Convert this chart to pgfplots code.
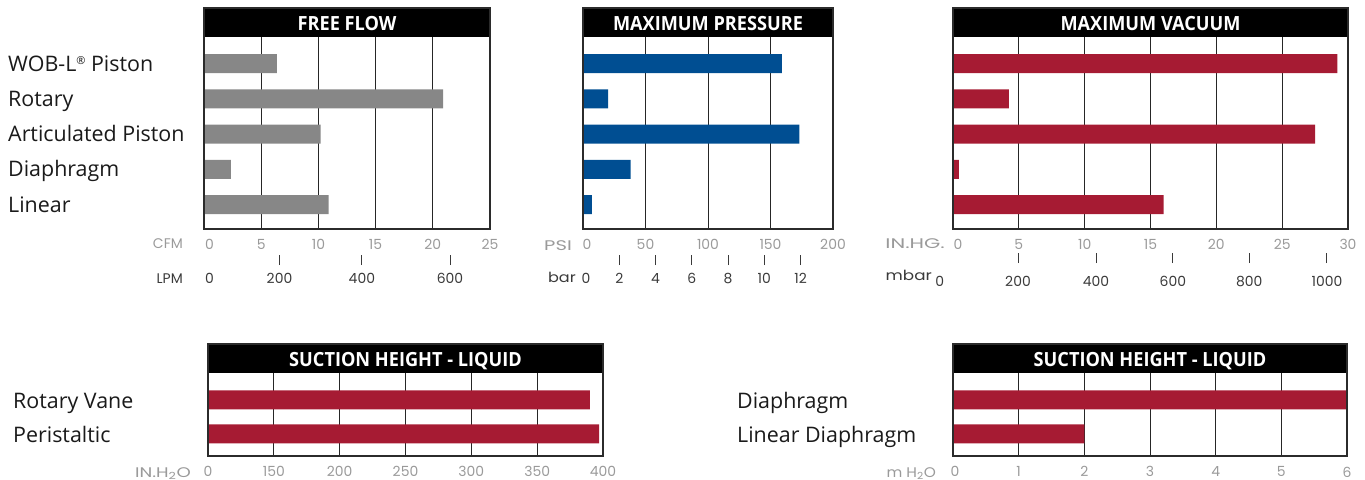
\documentclass[border=0pt]{standalone}
\usepackage{pgfplots}
\pgfplotsset{compat=1.18}
\usepackage{fontspec}
\setmainfont{Open Sans}
\newfontfamily\tickfont{Poppins}
\newfontfamily\titlefont{Open Sans}[FakeStretch=0.93]
\definecolor{bargray}{HTML}{878787}
\definecolor{barblue}{HTML}{004E92}
\definecolor{barred}{HTML}{A61B33}
\definecolor{ticklight}{HTML}{9A9A9A}
\definecolor{tickdark}{HTML}{3A3A3A}
\definecolor{framecol}{HTML}{2B2B2B}
\definecolor{labcol}{HTML}{1A1A1A}

\newcommand\tfont{\tickfont\fontsize{14}{14}\selectfont}
\newcommand\sh[2]{\hspace*{#1}#2}

\pgfplotsset{
 panel/.style={xbar, scale only axis, clip=false, anchor=south west,
   /pgf/number format/assume math mode=true,
   axis line style={draw=none}, xmajorgrids, grid style={black!85, line width=0.8bp},
   major tick length=0pt, bar width=19bp,
   xticklabel style={font=\tfont, text=ticklight, anchor=north, inner sep=0pt, yshift=-10bp},
   yticklabel style={font=\fontsize{21.5}{21.5}\selectfont, text=labcol, anchor=base west, inner sep=0pt, yshift=-7.5bp},
 },
 sub/.style={scale only axis, anchor=south west, height=1bp, ymin=0, ymax=1, hide y axis,
   /pgf/number format/assume math mode=true,
   axis line style={draw=none}, xtick pos=bottom, xtick align=inside, major tick length=10bp,
   tick style={draw=tickdark, line width=0.9bp},
   xticklabel style={font=\tfont, text=tickdark, anchor=north, inner sep=0pt, yshift=-8bp},
   extra x tick style={major tick length=0pt},
 },
}

\newcommand\paneltitle[1]{%
  \fill[black] (rel axis cs:0,1) rectangle ([yshift=29bp]rel axis cs:1,1);
  \node[anchor=base, inner sep=0pt, text=white, font=\titlefont\bfseries\fontsize{19.6}{20}\selectfont] at ([yshift=6.3bp]rel axis cs:0.5,1) {#1};
  \draw[line width=1.6bp, framecol] (rel axis cs:0,0) rectangle ([yshift=29bp]rel axis cs:1,1);
}

\begin{document}
\begin{tikzpicture}
\useasboundingbox (0,0) rectangle (1365bp,-480bp);

% ---------- FREE FLOW ----------
\begin{axis}[panel, at={(204bp,-229bp)}, width=286bp, height=192bp,
  xmin=0, xmax=25, ymin=0.305, ymax=5.752,
  xtick={0,5,10,15,20,25},
  xticklabels={\sh{11bp}{0},5,10,15,20,25},
  ytick={1,2,3,4,5},
  yticklabels={Linear, Diaphragm, Articulated Piston, Rotary, {WOB-L\raisebox{6.5bp}{\fontsize{11}{11}\selectfont ®} Piston}},
  yticklabel style={xshift=-196bp}]
\addplot[fill=bargray, draw=none] coordinates {(6.38,5) (20.9,4) (10.2,3) (2.36,2) (10.9,1)};
\paneltitle{FREE FLOW}
\end{axis}
\begin{axis}[sub, at={(204bp,-265bp)}, width=286bp, xmin=0, xmax=25,
  xtick={6.6,13.8,21.5}, xticklabels={200,400,600},
  extra x ticks={0}, extra x tick labels={\sh{11bp}{0}}]
\end{axis}

% ---------- MAXIMUM PRESSURE ----------
\begin{axis}[panel, at={(583bp,-229bp)}, width=250bp, height=192bp,
  xmin=0, xmax=200, ymin=0.305, ymax=5.752,
  xtick={0,50,100,150,200}, xticklabels={\sh{8bp}{0},50,100,150,200}, ytick=\empty]
\addplot[fill=barblue, draw=none] coordinates {(159,5) (20,4) (173,3) (38,2) (7,1)};
\paneltitle{MAXIMUM PRESSURE}
\end{axis}
\begin{axis}[sub, at={(583bp,-265bp)}, width=250bp, xmin=0, xmax=200,
  xtick={29.01,58.02,87.02,116.03,145.04,174.05}, xticklabels={2,4,6,8,10,12},
  extra x ticks={0}, extra x tick labels={\sh{6bp}{0}}]
\end{axis}

% ---------- MAXIMUM VACUUM ----------
\begin{axis}[panel, at={(953bp,-229bp)}, width=395bp, height=192bp,
  xmin=0, xmax=30, ymin=0.305, ymax=5.752,
  xtick={0,5,10,15,20,25,30}, xticklabels={\sh{10bp}{0},5,10,15,20,25,30}, ytick=\empty]
\addplot[fill=barred, draw=none] coordinates {(29.2,5) (4.25,4) (27.5,3) (0.45,2) (16.0,1)};
\paneltitle{MAXIMUM VACUUM}
\end{axis}
\begin{axis}[sub, at={(933.2bp,-263bp)}, width=414.8bp, xmin=-1.5, xmax=30,
  xtick={4.94,10.86,16.7,22.5,28.4}, xticklabels={200,400,600,800,1000},
  extra x ticks={-1.0}, extra x tick labels={0},
  xticklabel style={yshift=-5bp}]
\end{axis}

% ---------- SUCTION HEIGHT (IN.H2O) ----------
\begin{axis}[panel, at={(208bp,-456bp)}, width=395bp, height=83bp,
  xmin=0, xmax=6, ymin=0.353, ymax=2.79,
  x filter/.expression={x<150 ? x/150 : (x-100)/50},
  xtick={0,1,2,3,4,5,6}, xticklabels={0,150,200,250,300,350,400},
  xticklabel style={yshift=-0.5bp},
  ytick={1,2}, yticklabels={Peristaltic, Rotary Vane},
  yticklabel style={xshift=-195bp, yshift=-1bp}]
\addplot[fill=barred, draw=none] coordinates {(390,2) (397,1)};
\paneltitle{SUCTION HEIGHT - LIQUID}
\end{axis}

% ---------- SUCTION HEIGHT (m H2O) ----------
\begin{axis}[panel, at={(953bp,-456bp)}, width=394bp, height=83bp,
  xmin=0, xmax=6, ymin=0.353, ymax=2.79,
  xtick={0,1,2,3,4,5,6}, xticklabels={\sh{4bp}{0},1,2,3,4,5,6},
  xticklabel style={yshift=-0.5bp},
  ytick={1,2}, yticklabels={Linear Diaphragm, Diaphragm},
  yticklabel style={xshift=-216bp, yshift=-1bp}]
\addplot[fill=barred, draw=none] coordinates {(6,2) (2,1)};
\paneltitle{SUCTION HEIGHT - LIQUID}
\end{axis}

% ---------- unit labels ----------
\begin{scope}[every node/.style={inner sep=0pt, font=\tfont}]
\node[anchor=base east, text=ticklight] at (183bp,-248bp) {CFM};
\node[anchor=base east, text=tickdark] at (183bp,-283bp) {LPM};
\node[anchor=base east, text=ticklight] at (572bp,-250bp) {\scalebox{1.4}[1]{PSI}};
\node[anchor=base east, text=tickdark] at (576bp,-282bp) {\scalebox{1.15}[1]{bar}};
\node[anchor=base east, text=ticklight] at (945bp,-248bp) {\scalebox{1.5}[1]{IN.HG.}};
\node[anchor=base east, text=tickdark] at (932bp,-280bp) {\scalebox{1.2}[1]{mbar}};
\node[anchor=base east, text=ticklight] at (191bp,-477bp) {\scalebox{1.3}[1]{IN.H\textsubscript{2}O}};
\node[anchor=base east, text=ticklight] at (936bp,-477bp) {\scalebox{1.1}[1]{m H\textsubscript{2}O}};
\end{scope}
\end{tikzpicture}
\end{document}
